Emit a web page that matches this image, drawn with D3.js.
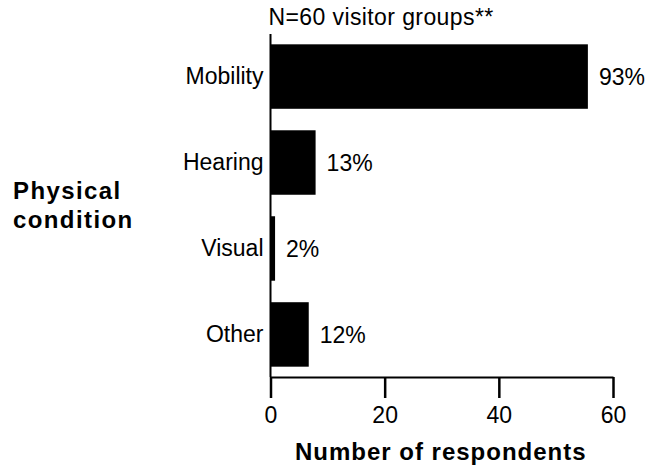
<!DOCTYPE html>
<html>
<head>
<meta charset="utf-8">
<script src="https://cdn.jsdelivr.net/npm/d3@7"></script>
<style>
  body { margin: 0; background: #fff; }
  text { font-family: "Liberation Sans", Arial, sans-serif; fill: #000; }
</style>
</head>
<body>
<div id="chart"></div>
<script>
// values
var categories = ["Mobility", "Hearing", "Visual", "Other"];
var respondents = [55.6, 7.9, 0.8, 6.7];
var percentLabels = ["93%", "13%", "2%", "12%"];
var xTicks = [0, 20, 40, 60];

var width = 654, height = 469;
var margins = { top: 34, left: 270.5, right: 41, bottom: 92 };
var fontSize = "23px";

var svg = d3.select("#chart").append("svg")
    .attr("width", width).attr("height", height);

var xScale = d3.scaleLinear()
    .domain([0, 60])
    .range([margins.left, width - margins.right]);

var yScale = d3.scaleBand()
    .domain(categories)
    .range([margins.top, height - margins.bottom])
    .paddingInner(0.25)
    .paddingOuter(0.12);

var axisY = height - margins.bottom;

// bars
svg.append("g").selectAll("rect")
    .data(categories)
    .enter().append("rect")
    .attr("x", xScale(0))
    .attr("y", function(d) { return yScale(d); })
    .attr("width", function(d, i) { return xScale(respondents[i]) - xScale(0); })
    .attr("height", yScale.bandwidth())
    .attr("fill", "#000");

// percent labels
svg.append("g").selectAll("text")
    .data(categories)
    .enter().append("text")
    .attr("x", function(d, i) { return xScale(respondents[i]) + 11; })
    .attr("y", function(d) { return yScale(d) + yScale.bandwidth() / 2; })
    .attr("dy", "0.36em")
    .style("font-size", fontSize)
    .text(function(d, i) { return percentLabels[i]; });

// x axis
var xAxis = svg.append("g")
    .attr("transform", "translate(0," + axisY + ")")
    .call(d3.axisBottom(xScale).tickValues(xTicks).tickSize(21).tickPadding(9).tickSizeOuter(0));
xAxis.select(".domain").attr("stroke", "#000").attr("stroke-width", 2);
xAxis.selectAll(".tick line").attr("stroke", "#000").attr("stroke-width", 2.5);
xAxis.selectAll(".tick text")
    .style("font-size", fontSize)
    .style("font-family", "'Liberation Sans', Arial, sans-serif")
    .attr("fill", "#000");

// y axis
var yAxis = svg.append("g")
    .attr("transform", "translate(" + margins.left + ",0)")
    .call(d3.axisLeft(yScale).tickSize(0).tickPadding(7));
yAxis.select(".domain").attr("stroke", "#000").attr("stroke-width", 2)
    .attr("d", "M0," + margins.top + "V" + axisY);
yAxis.selectAll(".tick text")
    .style("font-size", fontSize)
    .style("font-family", "'Liberation Sans', Arial, sans-serif")
    .attr("fill", "#000");

// title above plot
svg.append("text")
    .attr("x", margins.left - 2)
    .attr("y", 25)
    .style("font-size", fontSize)
    .style("letter-spacing", "0.4px")
    .text("N=60 visitor groups**");

// axis titles
var yTitle = svg.append("text")
    .attr("x", 13)
    .attr("y", 199)
    .style("font-size", "24px")
    .style("font-weight", "bold")
    .style("letter-spacing", "1.4px");
yTitle.append("tspan").attr("x", 13).text("Physical");
yTitle.append("tspan").attr("x", 13).attr("dy", 29).text("condition");

svg.append("text")
    .attr("x", xScale(30) - 1)
    .attr("y", 460)
    .attr("text-anchor", "middle")
    .style("font-size", "24px")
    .style("font-weight", "bold")
    .style("letter-spacing", "1px")
    .text("Number of respondents");
</script>
</body>
</html>
